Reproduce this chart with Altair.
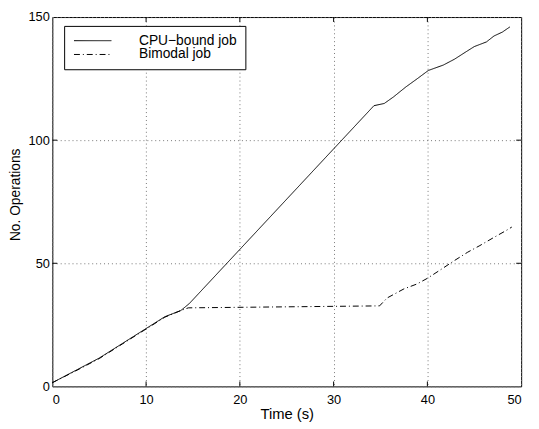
import altair as alt
import pandas as pd

# --- data ---
cpu_t = [0, 2.5, 5, 7.5, 10, 12, 13.7, 14.6, 34.3, 35.4, 36.4, 37.7, 38.9,
         40.1, 41.7, 42.9, 44, 45, 46.3, 47.1, 48, 48.8]
cpu_ops = [1.5, 6.5, 11.5, 17.5, 23.5, 28.3, 30.8, 33.6, 114, 114.9, 117.6,
           121.6, 124.9, 128.3, 130.5, 132.9, 135.6, 138, 139.9, 142.3, 143.9, 146]

bimodal_t = [0, 2.5, 5, 7.5, 10, 12, 13.7, 14.5, 34.9, 35.7, 37.5, 38.9, 40,
             41.5, 42.8, 44.3, 45.6, 47, 48.4, 49]
bimodal_ops = [1.5, 6.3, 11.3, 17.3, 23.3, 28.1, 30.8, 31.9, 32.7, 35.9, 39.6,
               41.6, 43.9, 47.6, 50.9, 54.5, 57.2, 60.3, 63.3, 64.7]

series_names = ["CPU\u2212bound job", "Bimodal job"]
x_ticks = [0, 10, 20, 30, 40, 50]
y_ticks = [0, 50, 100, 150]

df = pd.concat([
    pd.DataFrame({"t": cpu_t, "ops": cpu_ops, "series": series_names[0]}),
    pd.DataFrame({"t": bimodal_t, "ops": bimodal_ops, "series": series_names[1]}),
])
xt = pd.DataFrame({"v": x_ticks[1:-1]})
yt = pd.DataFrame({"v": y_ticks[1:-1]})

FONT = "Liberation Sans"
W, H = 476, 375

xscale = alt.Scale(domain=[0, 50], nice=False, zero=False)
yscale = alt.Scale(domain=[0, 150], nice=False, zero=False)

lines = alt.Chart(df).mark_line(color="black", strokeWidth=1).encode(
    x=alt.X("t:Q", scale=xscale, title="Time (s)",
            axis=alt.Axis(values=x_ticks, grid=True, gridDash=[1, 3], gridColor="#777777",
                          gridOpacity=1, ticks=False, domain=False, labelPadding=7,
                          labelFontSize=13, labelFont=FONT, labelColor="black",
                          titleFontSize=15, titleFont=FONT, titleFontWeight="normal",
                          titleColor="black", titleBaseline="alphabetic", titleY=33)),
    y=alt.Y("ops:Q", scale=yscale, title="No. Operations",
            axis=alt.Axis(values=y_ticks, grid=True, gridDash=[1, 3], gridColor="#777777",
                          gridOpacity=1, ticks=False, domain=False, labelPadding=3,
                          labelFontSize=13, labelFont=FONT, labelColor="black",
                          titleFontSize=14, titleFont=FONT, titleFontWeight="normal",
                          titleColor="black", titleBaseline="alphabetic",
                          titleX=-33, titleY=180)),
    strokeDash=alt.StrokeDash(
        "series:N",
        sort=series_names,
        scale=alt.Scale(domain=series_names, range=[[1, 0], [6, 3, 1, 3]]),
        legend=alt.Legend(title=None, orient="none", legendX=12, legendY=9,
                          strokeColor="black", fillColor="white", padding=8,
                          cornerRadius=0, labelFontSize=14, labelFont=FONT,
                          labelColor="black", symbolType="M-3.8,0H3.8",
                          symbolSize=100, symbolStrokeColor="black",
                          symbolStrokeWidth=1, symbolOffset=14, labelOffset=40,
                          rowPadding=0),
    ),
)

bottom_ticks = alt.Chart(xt).mark_rule(color="black", strokeWidth=1).encode(
    x=alt.X("v:Q", scale=xscale), y=alt.value(H), y2=alt.value(H - 5))
top_ticks = alt.Chart(xt).mark_rule(color="black", strokeWidth=1).encode(
    x=alt.X("v:Q", scale=xscale), y=alt.value(0), y2=alt.value(5))
left_ticks = alt.Chart(yt).mark_rule(color="black", strokeWidth=1).encode(
    y=alt.Y("v:Q", scale=yscale), x=alt.value(0), x2=alt.value(5))
right_ticks = alt.Chart(yt).mark_rule(color="black", strokeWidth=1).encode(
    y=alt.Y("v:Q", scale=yscale), x=alt.value(W), x2=alt.value(W - 5))

chart = alt.layer(lines, bottom_ticks, top_ticks, left_ticks, right_ticks).properties(
    width=W, height=H,
    autosize=alt.AutoSizeParams(type="none"),
    padding={"left": 45, "top": 6, "right": 10, "bottom": 35},
    background="white",
).configure_view(stroke="black", strokeWidth=1)

chart.save("out.html", embed_options={"renderer": "svg", "actions": False})
